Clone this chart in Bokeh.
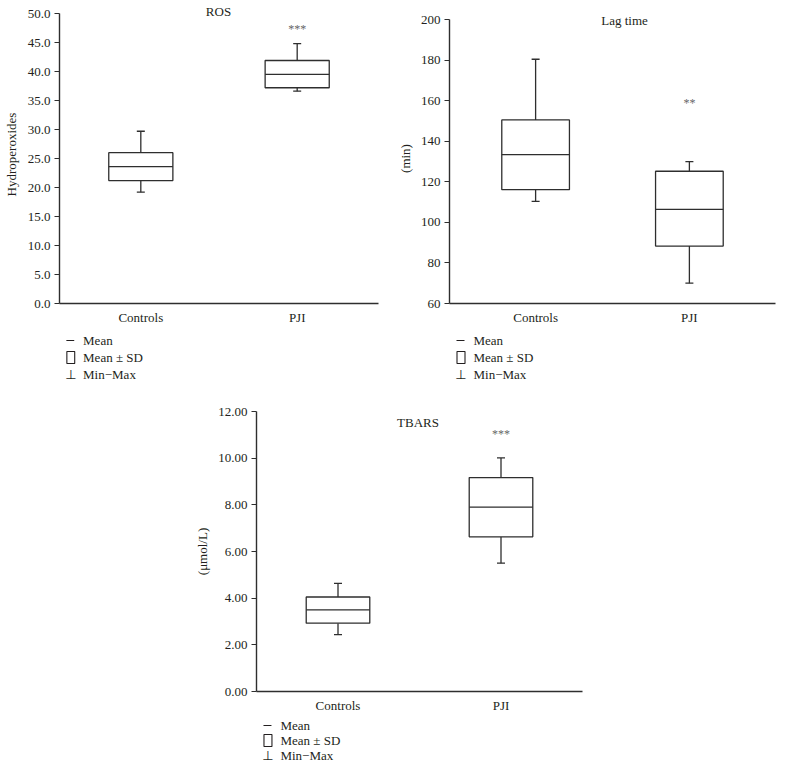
from bokeh.plotting import figure
from bokeh.models import FactorRange, Range1d, FixedTicker, PrintfTickFormatter, Spacer
from bokeh.layouts import column, row
from bokeh.core.properties import value
from bokeh.embed import file_html
from bokeh.resources import INLINE

categories = ["Controls", "PJI"]

# ROS (hydroperoxides)
ros_mean = [23.6, 39.5]
ros_sd_low = [21.2, 37.2]
ros_sd_high = [26.0, 41.9]
ros_min = [19.2, 36.6]
ros_max = [29.7, 44.8]
ros_ticks = [0, 5, 10, 15, 20, 25, 30, 35, 40, 45, 50]
ros_star = ["", "***"]
ros_star_y = 47.4

# Lag time (min)
lag_mean = [133.4, 106.4]
lag_sd_low = [116.1, 88.3]
lag_sd_high = [150.5, 125.2]
lag_min = [110.3, 70.0]
lag_max = [180.4, 129.9]
lag_ticks = [60, 80, 100, 120, 140, 160, 180, 200]
lag_star = ["", "**"]
lag_star_y = 158.7

# TBARS (umol/L)
tbars_mean = [3.50, 7.90]
tbars_sd_low = [2.93, 6.63]
tbars_sd_high = [4.05, 9.17]
tbars_min = [2.44, 5.50]
tbars_max = [4.63, 10.01]
tbars_ticks = [0, 2, 4, 6, 8, 10, 12]
tbars_star = ["", "***"]
tbars_star_y = 11.03

legend_texts = ["Mean", "Mean \u00B1 SD", "Min\u2212Max"]

FONT = "Liberation Serif"
INK = "#231f20"
LINE = "#2e2e2e"
BOTTOM = 24


def panel(title, ylabel, mean, lo, hi, mn, mx, ticks, fmt, star, star_y,
          width, height, left, right, top, ax_top, pad, box_w,
          title_dy_px, title_x_px, standoff):
    ymin, ymax = ticks[0], ticks[-1]
    frame_w = width - left - right
    frame_h = height - top - BOTTOM
    axis_px = frame_h - ax_top
    scale = axis_px / (ymax - ymin)            # px per data unit
    xs, xe = -pad, len(categories) + pad

    p = figure(x_range=FactorRange(*categories, range_padding=pad),
               y_range=Range1d(ymin, ymax + ax_top / scale),
               width=width, height=height, output_backend="svg",
               toolbar_location=None, min_border_left=left, min_border_right=right,
               min_border_top=top, min_border_bottom=BOTTOM)
    p.outline_line_color = None
    p.xgrid.grid_line_color = None
    p.ygrid.grid_line_color = None

    # whiskers (min-max)
    p.segment(x0=categories, y0=hi, x1=categories, y1=mx, line_color=LINE, line_width=1.3)
    p.segment(x0=categories, y0=mn, x1=categories, y1=lo, line_color=LINE, line_width=1.3)
    p.scatter(x=categories, y=mx, marker="dash", size=8, line_color=LINE, line_width=1.3)
    p.scatter(x=categories, y=mn, marker="dash", size=8, line_color=LINE, line_width=1.3)
    # boxes (mean +/- SD)
    p.vbar(x=categories, bottom=lo, top=hi, width=box_w, fill_color="white",
           line_color=LINE, line_width=1.3)
    # mean lines
    p.vbar(x=categories, bottom=mean, top=mean, width=box_w, fill_alpha=0,
           line_color=LINE, line_width=1.3)

    # axes
    p.yaxis.ticker = FixedTicker(ticks=ticks)
    p.yaxis.bounds = (ymin, ymax)
    p.yaxis.formatter = PrintfTickFormatter(format=fmt)
    p.yaxis.minor_tick_line_color = None
    p.yaxis.major_tick_in = 0
    p.yaxis.major_tick_out = 5
    p.yaxis.major_label_standoff = 4
    p.yaxis.axis_label = ylabel
    p.yaxis.axis_label_standoff = standoff
    p.yaxis.major_tick_line_color = LINE
    p.yaxis.major_tick_line_width = 1.2
    p.xaxis.major_tick_line_color = None
    p.xaxis.major_tick_out = 0
    p.xaxis.major_tick_in = 0
    p.xaxis.major_label_standoff = 6
    for ax in (p.xaxis, p.yaxis):
        ax.axis_line_color = LINE
        ax.axis_line_width = 1.4
        ax.major_label_text_font = FONT
        ax.major_label_text_font_size = "13px"
        ax.major_label_text_color = INK
        ax.axis_label_text_font = FONT
        ax.axis_label_text_font_size = "13px"
        ax.axis_label_text_font_style = "normal"
        ax.axis_label_text_color = INK

    # panel title near the top of the axis
    tx = xs + title_x_px / frame_w * (xe - xs)
    p.text(x=[tx], y=[ymax + title_dy_px / scale], text=[title],
           text_align="center", text_baseline="middle",
           text_font=value(FONT), text_font_size="13px", text_color=INK)
    # significance stars
    sx = [i + 0.5 for i, s in enumerate(star) if s]
    st = [s for s in star if s]
    p.text(x=sx, y=[star_y] * len(sx), text=st, text_align="center",
           text_baseline="middle", text_font=value(FONT), text_font_size="12px",
           text_color="#666666")
    return p


def legend_box(width, height, left, right, rows):
    frame_w = width - left - right
    q = figure(x_range=Range1d(0, frame_w), y_range=Range1d(height, 0),
               width=width, height=height, output_backend="svg",
               toolbar_location=None, x_axis_location=None, y_axis_location=None,
               min_border_left=left, min_border_right=right,
               min_border_top=0, min_border_bottom=0)
    q.outline_line_color = None
    q.xgrid.grid_line_color = None
    q.ygrid.grid_line_color = None
    # symbols: mean line, SD box, min-max whisker
    q.segment(x0=[7], y0=[rows[0]], x1=[15], y1=[rows[0]], line_color=INK, line_width=1.1)
    q.rect(x=[11.5], y=[rows[1]], width=8, height=12, fill_color="white",
           line_color=INK, line_width=1.1)
    q.text(x=[11.5], y=[rows[2]], text=["\u22A5"], text_align="center",
           text_baseline="middle", text_font=value("DejaVu Sans"),
           text_font_size="13px", text_color=INK)
    q.text(x=[24] * 3, y=rows, text=legend_texts, text_align="left",
           text_baseline="middle", text_font=value(FONT),
           text_font_size="13px", text_color=INK)
    return q


p1 = panel("ROS", "Hydroperoxides", ros_mean, ros_sd_low, ros_sd_high, ros_min, ros_max,
           ros_ticks, "%.1f", ros_star, ros_star_y,
           width=382, height=327, left=53, right=4, top=5, ax_top=8, pad=0.02,
           box_w=0.41, title_dy_px=2, title_x_px=162, standoff=6)
p2 = panel("Lag time", "(min)", lag_mean, lag_sd_low, lag_sd_high, lag_min, lag_max,
           lag_ticks, "%d", lag_star, lag_star_y,
           width=394, height=327, left=67, right=1, top=13, ax_top=6, pad=0.06,
           box_w=0.44, title_dy_px=-1, title_x_px=175, standoff=5)
p3 = panel("TBARS", "(\u03BCmol/L)", tbars_mean, tbars_sd_low, tbars_sd_high, tbars_min,
           tbars_max, tbars_ticks, "%.2f", tbars_star, tbars_star_y,
           width=400, height=326, left=63, right=10, top=22, ax_top=0, pad=0.0,
           box_w=0.39, title_dy_px=-11, title_x_px=162, standoff=5)

l1 = legend_box(382, 62, 53, 4, [13, 30, 47])
l2 = legend_box(394, 62, 67, 1, [13, 30, 47])
l3 = legend_box(400, 47, 63, 10, [10, 25, 40])

layout = column(row(column(p1, l1), column(p2, l2)),
                row(Spacer(width=192, height=10), column(p3, l3)))

open("out.html", "w").write(file_html(layout, INLINE))
